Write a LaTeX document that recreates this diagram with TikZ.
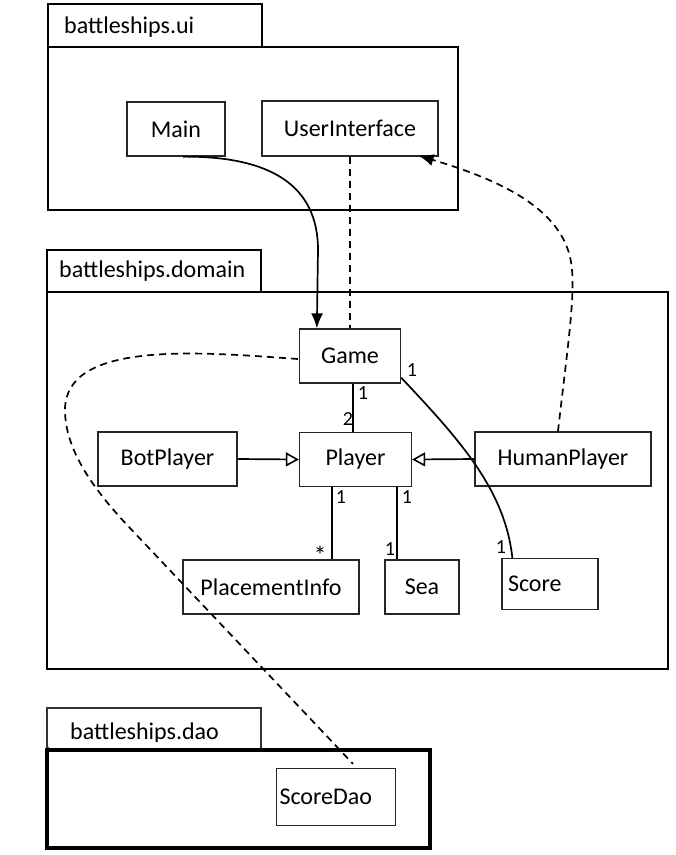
\documentclass[tikz,border=0pt]{standalone}
\usepackage{fontspec}
\setmainfont{Carlito}
\usetikzlibrary{arrows.meta,calc}
\begin{document}
\begin{tikzpicture}[x=1pt,y=-1pt,
 cls/.style={draw=black!85,line width=1.3pt,inner sep=0pt,font=\fontsize{24}{28}\selectfont},
 pkgbox/.style={draw=black,line width=2.2pt},
 tabbox/.style={draw=black,line width=2pt},
 tabtext/.style={anchor=west,inner sep=0pt,font=\fontsize{24}{28}\selectfont},
 lbl/.style={font=\fontsize{20}{24}\selectfont,inner sep=0pt},
 dsh/.style={dash pattern=on 7pt off 5pt,line width=1.7pt},
 conn/.style={line width=1.7pt},
 gen/.style={conn,-{Triangle[open,length=13pt,width=14pt,line width=1.6pt]}},
 dep/.style={-{Latex[length=15pt,width=12pt]}},
 ]
\useasboundingbox (0,0) rectangle (676,855);

% packages
\draw[tabbox] (48,4) rectangle (262,47);
\node[tabtext] (uiname) at (64,27) {battleships.ui};
\draw[pkgbox] (48,47) rectangle (458,210);

\draw[tabbox] (47,250) rectangle (261,292);
\node[tabtext] (domname) at (59,271) {battleships.domain};
\draw[pkgbox] (47,292) rectangle (668,669);

\draw[tabbox,line width=1.6pt,draw=black!80] (47,708) rectangle (261,748);
\node[tabtext] (daoname) at (70,733) {battleships.dao};
\fill[white] (48.5,742) rectangle (259.5,749);
\draw[draw=black,line width=3.2pt] (47,750) rectangle (430,848);

% classes
\node[cls,minimum width=98pt,minimum height=54pt] (Main) at (176,129) {Main};
\node[cls,minimum width=176pt,minimum height=55pt] (UI) at (350,128.5) {UserInterface};
\node[cls,minimum width=101pt,minimum height=54pt] (Game) at (350,356) {Game};
\node[cls,minimum width=112pt,minimum height=54pt] (Player) at (355.5,459.5) {Player};
\node[cls,minimum width=139pt,minimum height=54pt] (Bot) at (167.5,459) {BotPlayer};
\node[cls,minimum width=176pt,minimum height=54pt] (Human) at (563,459) {HumanPlayer};
\node[cls,minimum width=176pt,minimum height=54pt] (Place) at (271,587) {PlacementInfo};
\node[cls,minimum width=74pt,minimum height=54pt] (Sea) at (422,587) {Sea};
\node[cls,minimum width=96pt,minimum height=51pt,text width=84pt,align=left] (Score) at (550,584) {Score};
\node[cls,minimum width=119pt,minimum height=57pt,text width=113pt,align=left] (ScoreDao) at (336,797) {ScoreDao};

% Main -> Game
\coordinate (mgend) at ($(Game.north west)+(18,0)$);
\draw[conn,dep] ($(Main.south)+(7,0)$) .. controls (270,156) and (318,185) .. (318,250) -- (mgend);

% UserInterface -- Game
\draw[dsh] (UI.south) -- (Game.north);

% HumanPlayer -> UserInterface
\draw[dsh,dep] ($(Human.north)+(-5,0)$) .. controls (566,360) and (575,300) .. (572,270)
  .. controls (568,210) and (500,180) .. ($(UI.south east)+(-20,-1)$);

% Game -- Player
\coordinate (gp) at ($(Game.south west)+(54,0)$);
\draw[conn] (gp) -- (gp |- Player.north);
\node[lbl] (g1) at (363,393) {1};
\node[lbl] (p2) at (348,419) {2};

% generalisations
\draw[gen] (Bot.east) -- (Player.west);
\draw[gen] (Human.west) -- (Player.east);

% Player -- PlacementInfo
\coordinate (pp) at ($(Player.south west)+(33,0)$);
\draw[conn] (pp) -- (pp |- Place.north);
\node[lbl] (pp1) at (341,497) {1};
\node[lbl,font=\fontsize{26}{28}\selectfont] (ppstar) at (320,555) {*};

% Player -- Sea
\coordinate (ps) at ($(Player.south west)+(98,0)$);
\draw[conn] (ps) -- (ps |- Sea.north);
\node[lbl] (ps1) at (407,497) {1};
\node[lbl] (ps2) at (390,549) {1};

% Game -- Score
\draw[conn] ($(Game.south east)+(0,-6)$) .. controls (460,440) and (505,490) .. ($(Score.north west)+(11,0)$);
\node[lbl] (gs1) at (412,370) {1};
\node[lbl] (gs2) at (501,547) {1};

% Game -- ScoreDao
\draw[dsh] ($(Game.west)+(-1,3)$) .. controls (200,352) and (65,340) .. (65,410)
  .. controls (65,450) and (94,490) .. (129,527) -- ($(ScoreDao.north)+(17,-4)$);
\end{tikzpicture}
\end{document}
